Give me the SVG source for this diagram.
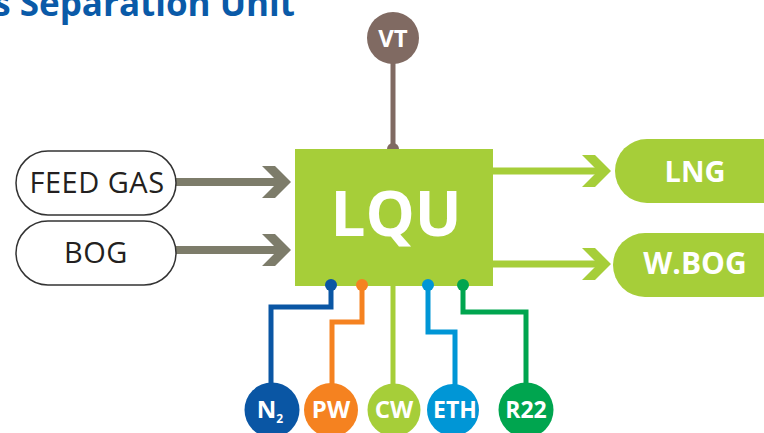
<svg xmlns="http://www.w3.org/2000/svg" width="764" height="433" viewBox="0 0 764 433">
<defs>
<style>
.title{font-family:"Open Sans","Liberation Sans",sans-serif;font-weight:bold;font-size:35px;fill:#0a5aa8}
.pill-in{fill:#ffffff;stroke:#333333;stroke-width:1.5}
.in-txt{font-family:"Open Sans","Liberation Sans",sans-serif;font-size:29px;letter-spacing:0.5px;fill:#231f20;text-anchor:middle}
.out-pill{fill:#a6ce39}
.wtxt{font-family:"Open Sans","Liberation Sans",sans-serif;font-weight:bold;fill:#ffffff;text-anchor:middle}
.gshaft{stroke:#7d7c6a;stroke-width:8;fill:none}
.lshaft{stroke:#a6ce39;stroke-width:7;fill:none}
.pipe{stroke-width:5;fill:none;stroke-linejoin:miter}
</style>
<path id="chev" d="M0,-16 L13,-16 L29,0 L13,16 L0,16 L16,0 Z"/>
</defs>

<text class="title" x="295" y="16" text-anchor="end">s Separation Unit</text>

<g id="connectors">
  <line x1="393" y1="50" x2="393" y2="149" stroke="#806a62" stroke-width="5"/>
  <circle cx="393" cy="149" r="6" fill="#806a62"/>
  <line class="gshaft" x1="176" y1="182" x2="280" y2="182"/>
  <use href="#chev" transform="translate(262,182)" fill="#7d7c6a"/>
  <line class="gshaft" x1="176" y1="250" x2="280" y2="250"/>
  <use href="#chev" transform="translate(262,250)" fill="#7d7c6a"/>
  <line class="lshaft" x1="490" y1="171" x2="600" y2="171"/>
  <use href="#chev" transform="translate(582,171)" fill="#a6ce39"/>
  <line class="lshaft" x1="490" y1="264" x2="600" y2="264"/>
  <use href="#chev" transform="translate(582,264)" fill="#a6ce39"/>
  <polyline class="pipe" stroke="#0a56a4" points="331,285 331,307 271,307 271,390"/>
  <polyline class="pipe" stroke="#f58220" points="362,285 362,322 332,322 332,390"/>
  <polyline class="pipe" stroke="#a6ce39" points="393,280 393,390"/>
  <polyline class="pipe" stroke="#0096d6" points="428,285 428,332 455,332 455,390"/>
  <polyline class="pipe" stroke="#00a54f" points="463,285 463,312 526,312 526,390"/>
</g>

<g id="LQU">
  <rect x="295" y="149" width="198" height="137" fill="#a6ce39"/>
  <text class="wtxt" x="396" y="236" font-size="62">LQU</text>
  <circle cx="331" cy="285" r="6" fill="#0a56a4"/>
  <circle cx="362" cy="285" r="6" fill="#f58220"/>
  <circle cx="428" cy="285" r="6" fill="#0096d6"/>
  <circle cx="463" cy="285" r="6" fill="#00a54f"/>
</g>

<g id="VT">
  <circle cx="393" cy="38" r="26" fill="#806a62"/>
  <text class="wtxt" x="393" y="47" font-size="24">VT</text>
</g>

<g id="FEEDGAS">
  <rect class="pill-in" x="16" y="151" width="160" height="64" rx="32"/>
  <text class="in-txt" x="97" y="193">FEED GAS</text>
</g>
<g id="BOG">
  <rect class="pill-in" x="16" y="221" width="160" height="64" rx="32"/>
  <text class="in-txt" x="96" y="263">BOG</text>
</g>

<g id="LNG">
  <rect class="out-pill" x="615" y="139" width="180" height="64" rx="32"/>
  <text class="wtxt" x="695" y="182" font-size="29">LNG</text>
</g>
<g id="WBOG">
  <rect class="out-pill" x="613" y="233" width="180" height="64" rx="32"/>
  <text class="wtxt" x="695" y="274" font-size="30">W.BOG</text>
</g>

<g id="N2">
  <circle cx="272" cy="410" r="27.5" fill="#0a56a4"/>
  <text class="wtxt" x="270" y="418" font-size="24">N<tspan font-size="12" dy="5">2</tspan></text>
</g>
<g id="PW">
  <circle cx="331" cy="410" r="27" fill="#f58220"/>
  <text class="wtxt" x="331" y="418" font-size="24">PW</text>
</g>
<g id="CW">
  <circle cx="394" cy="410" r="26.5" fill="#a6ce39"/>
  <text class="wtxt" x="394" y="418" font-size="24">CW</text>
</g>
<g id="ETH">
  <circle cx="453" cy="410" r="26" fill="#0096d6"/>
  <text class="wtxt" x="455" y="418" font-size="23">ETH</text>
</g>
<g id="R22">
  <circle cx="526" cy="410" r="27.5" fill="#00a54f"/>
  <text class="wtxt" x="526" y="418" font-size="23">R22</text>
</g>
</svg>
